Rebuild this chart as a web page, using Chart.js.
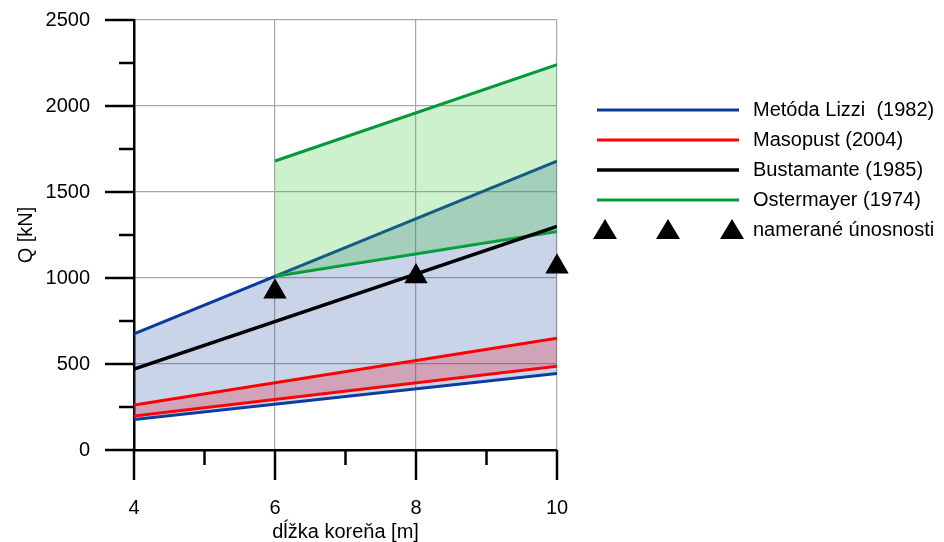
<!DOCTYPE html>
<html>
<head>
<meta charset="utf-8">
<script src="https://cdn.jsdelivr.net/npm/chart.js@4/dist/chart.umd.min.js"></script>
<style>
  html,body{margin:0;padding:0;background:#fff;}
  #wrap{width:944px;height:542px;}
</style>
</head>
<body>
<div id="wrap"><canvas id="qChart" width="944" height="542"></canvas></div>
<script>
// dĺžka koreňa [m] a únosnosti Q [kN]
const xEnds=[4,10];
const lizziHorna=[675,1680];
const lizziDolna=[178,445];
const masopustHorna=[262,650];
const masopustDolna=[198,487];
const bustamante=[470,1300];
const osterX=[6,10];
const osterHorna=[1680,2240];
const osterDolna=[1010,1270];
const meraneX=[6,8,10];
const merane=[920,1008,1065];
const legendTexts=['Metóda Lizzi  (1982)','Masopust (2004)','Bustamante (1985)','Ostermayer (1974)','namerané únosnosti'];

const FONT='"Liberation Sans", Arial, sans-serif';
const C_BLUE='#0a3a9e', C_RED='#ff0000', C_BLACK='#000000', C_GREEN='#009a3a';

const pts=(xs,ys)=>xs.map((x,i)=>({x:x,y:ys[i]}));

// osi s hlavnymi a vedlajsimi ciarkami
const tickMarks={
  id:'tickMarks',
  afterDatasetsDraw(chart){
    const {ctx,scales:{x,y}}=chart;
    ctx.save(); ctx.strokeStyle='#000'; ctx.lineWidth=2.5;
    for(let v=0;v<=2500;v+=250){
      const py=y.getPixelForValue(v),len=(v%500===0)?29:15;
      ctx.beginPath(); ctx.moveTo(x.left-len,py); ctx.lineTo(x.left,py); ctx.stroke();
    }
    for(let v=4;v<=10;v++){
      const px=x.getPixelForValue(v),len=(v%2===0)?30:15;
      ctx.beginPath(); ctx.moveTo(px,y.bottom); ctx.lineTo(px,y.bottom+len); ctx.stroke();
    }
    ctx.restore();
  }
};

// legenda vpravo od grafu
const sideLegend={
  id:'sideLegend',
  afterDraw(chart){
    const ctx=chart.ctx, ds=chart.data.datasets;
    const rows=[0,4,6,2]; // Lizzi, Masopust, Bustamante, Ostermayer
    const x0=597,x1=739,tx=753,y0=110,dy=30;
    ctx.save();
    ctx.font='20px '+FONT; ctx.fillStyle='#000'; ctx.textBaseline='middle';
    rows.forEach((di,i)=>{
      const yy=y0+i*dy;
      ctx.strokeStyle=ds[di].borderColor; ctx.lineWidth=ds[di].borderWidth;
      ctx.beginPath(); ctx.moveTo(x0,yy); ctx.lineTo(x1,yy); ctx.stroke();
      ctx.fillText(legendTexts[i],tx,yy);
    });
    const yt=y0+4*dy;
    [605,668,732].forEach(cx=>{
      ctx.beginPath(); ctx.moveTo(cx,yt-11); ctx.lineTo(cx+12,yt+9); ctx.lineTo(cx-12,yt+9); ctx.closePath(); ctx.fill();
    });
    ctx.fillText(legendTexts[4],tx,yt);
    ctx.restore();
  }
};

const line=(data,color,width,order,extra)=>Object.assign({data:data,borderColor:color,borderWidth:width,pointRadius:0,fill:false,order:order,tension:0},extra||{});

new Chart(document.getElementById('qChart'),{
  type:'line',
  data:{datasets:[
    line(pts(xEnds,lizziHorna),C_BLUE,3,6,{fill:'+1',backgroundColor:'rgba(39,83,163,0.25)'}),
    line(pts(xEnds,lizziDolna),C_BLUE,3,6),
    line(pts(osterX,osterHorna),C_GREEN,3,4,{fill:'+1',backgroundColor:'rgba(55,195,55,0.25)'}),
    line(pts(osterX,osterDolna),C_GREEN,3,4),
    line(pts(xEnds,masopustHorna),C_RED,3,3,{fill:'+1',backgroundColor:'rgba(230,30,60,0.27)'}),
    line(pts(xEnds,masopustDolna),C_RED,3,3),
    line(pts(xEnds,bustamante),C_BLACK,3.5,2),
    {data:pts(meraneX,merane),showLine:false,pointStyle:'triangle',pointRadius:13.5,pointHoverRadius:13.5,
     backgroundColor:'#000',borderColor:'#000',borderWidth:0,order:1,clip:false}
  ]},
  options:{
    responsive:false,animation:false,
    layout:{padding:{top:20,right:387,left:0,bottom:0}},
    plugins:{legend:{display:false},tooltip:{enabled:false}},
    scales:{
      x:{type:'linear',min:4,max:10,
        afterFit:s=>{s.height=92;},
        border:{color:'#000',width:2.5},
        grid:{tickLength:42,tickColor:'transparent',color:c=>(c.tick&&c.tick.value>4&&c.tick.value%2===0)?'#a6a6a6':'transparent',lineWidth:1.2},
        ticks:{stepSize:1,padding:4,color:'#000',font:{family:FONT,size:20},callback:v=>v%2===0?v:''},
        title:{display:true,text:'dĺžka koreňa [m]',color:'#000',font:{family:FONT,size:20},padding:{top:0,bottom:-2}}
      },
      y:{min:0,max:2500,
        afterFit:s=>{s.width=134;},
        border:{color:'#000',width:2.5},
        grid:{tickLength:40,tickColor:'transparent',color:c=>(c.tick&&c.tick.value>0&&c.tick.value%500===0)?'#a6a6a6':'transparent',lineWidth:1.2},
        ticks:{stepSize:250,padding:4,color:'#000',font:{family:FONT,size:20},callback:v=>v%500===0?v:''},
        title:{display:true,text:'Q [kN]',color:'#000',font:{family:FONT,size:20},padding:{top:14,bottom:0}}
      }
    }
  },
  plugins:[tickMarks,sideLegend]
});
</script>
</body>
</html>
